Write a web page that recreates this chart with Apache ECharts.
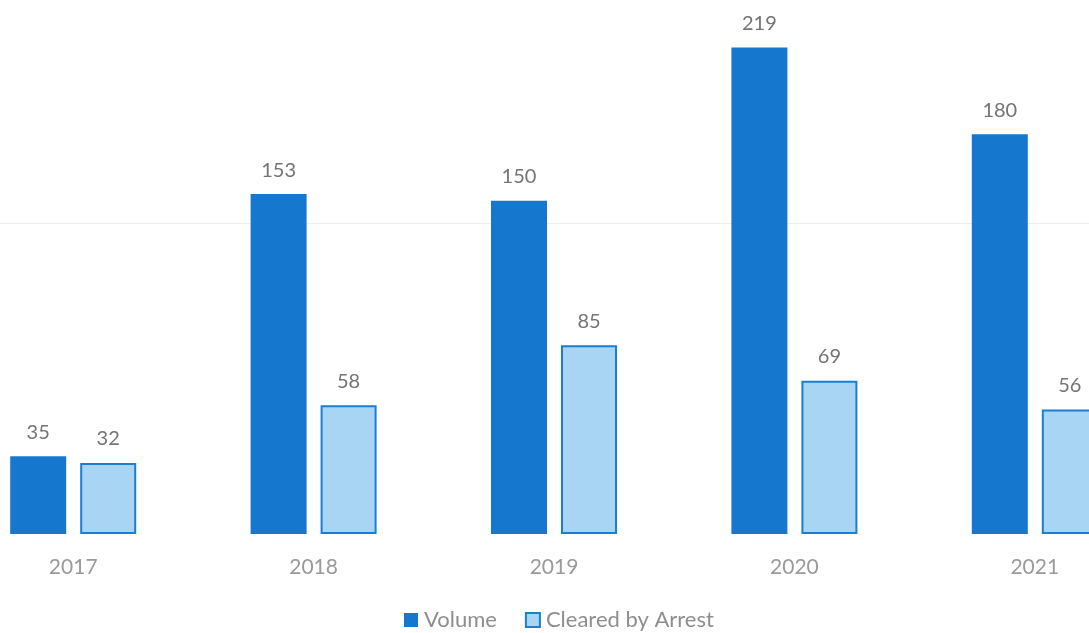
<!DOCTYPE html>
<html>
<head>
<meta charset="utf-8">
<script src="https://cdn.jsdelivr.net/npm/echarts@6/dist/echarts.min.js"></script>
<style>
  html, body { margin: 0; padding: 0; background: #ffffff; overflow: hidden; width: 1089px; height: 633px; position: relative; }
  /* The plot runs past the page edges on the left, right and top */
  #chart { position: absolute; left: -47px; top: -88px; width: 1202px; height: 721px; }
</style>
</head>
<body>
<div id="chart"></div>
<script>
// Yearly case volume versus cases cleared by arrest
const years = ['2017', '2018', '2019', '2020', '2021'];
const volume = [35, 153, 150, 219, 180];
const clearedByArrest = [32, 58, 85, 69, 56];
const seriesNames = ['Volume', 'Cleared by Arrest'];

const FONT = 'Lato, "Open Sans", sans-serif';

const chart = echarts.init(document.getElementById('chart'), null, { renderer: 'canvas' });

const valueLabel = {
  show: true,
  position: 'top',
  distance: 14,
  color: '#747474',
  fontFamily: FONT,
  fontSize: 20
};

chart.setOption({
  animation: false,
  backgroundColor: '#ffffff',
  grid: { left: 0, right: 0, top: 0, bottom: 99, containLabel: false },
  legend: {
    top: 697,
    left: 451,
    padding: 0,
    itemWidth: 14,
    itemHeight: 14,
    itemGap: 28,
    icon: 'rect',
    textStyle: { color: '#8e8e8e', fontFamily: FONT, fontSize: 22, padding: [0, 0, 0, 1] },
    data: seriesNames
  },
  xAxis: {
    type: 'category',
    data: years,
    axisLine: { show: false },
    axisTick: { show: false },
    axisLabel: { color: '#9a9a9a', fontFamily: FONT, fontSize: 21, margin: 23 }
  },
  yAxis: {
    type: 'value',
    min: 0,
    max: 280,
    interval: 140,
    axisLabel: { show: false },
    axisLine: { show: false },
    axisTick: { show: false },
    splitLine: { lineStyle: { color: ['rgba(0,0,0,0)', '#eeeeee', 'rgba(0,0,0,0)'], width: 1 } }
  },
  series: [
    {
      name: seriesNames[0],
      type: 'bar',
      data: volume,
      barWidth: 56,
      barGap: '25%',
      itemStyle: { color: '#1677cf' },
      label: valueLabel
    },
    {
      name: seriesNames[1],
      type: 'bar',
      data: clearedByArrest,
      barWidth: 56,
      itemStyle: { color: '#a9d5f5', borderColor: '#1a7ed3', borderWidth: 2 },
      label: valueLabel
    }
  ]
});
</script>
</body>
</html>
